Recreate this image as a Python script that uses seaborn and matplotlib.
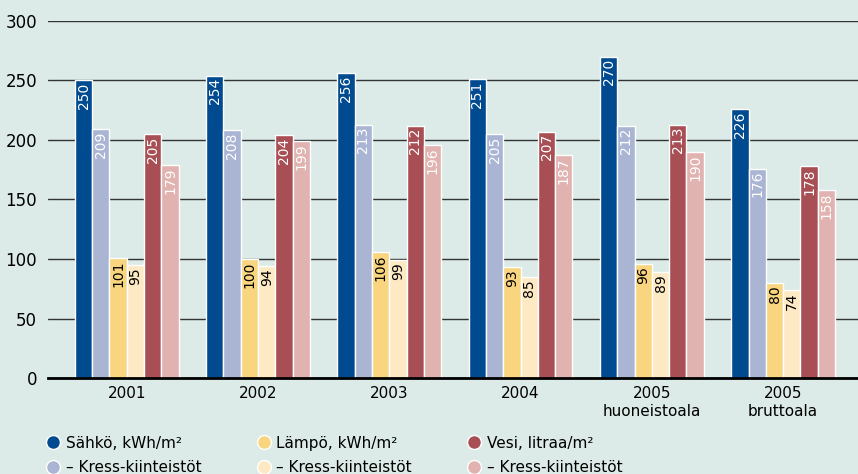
import matplotlib
matplotlib.use('Agg')
import matplotlib.pyplot as plt
from matplotlib.lines import Line2D
import seaborn as sns
import pandas as pd
import numpy as np

#---- Data ----#
groups = ['2001', '2002', '2003', '2004', '2005\nhuoneistoala', '2005\nbruttoala']
series = ['Sähkö, kWh/m²', 'Sähkö Kress', 'Lämpö, kWh/m²', 'Lämpö Kress',
          'Vesi, litraa/m²', 'Vesi Kress']
legend_labels = ['Sähkö, kWh/m²', '– Kress-kiinteistöt', 'Lämpö, kWh/m²',
                 '– Kress-kiinteistöt', 'Vesi, litraa/m²', '– Kress-kiinteistöt']
sahko = [250, 254, 256, 251, 270, 226]
sahko_kress = [209, 208, 213, 205, 212, 176]
lampo = [101, 100, 106, 93, 96, 80]
lampo_kress = [95, 94, 99, 85, 89, 74]
vesi = [205, 204, 212, 207, 213, 178]
vesi_kress = [179, 199, 196, 187, 190, 158]

colors = ['#004a8f', '#aab5d4', '#f8d57e', '#fdeac4', '#a84f55', '#e0b3b0']
text_colors = ['white', 'white', 'black', 'black', 'white', 'white']
bg = '#dcebe7'

values = [sahko, sahko_kress, lampo, lampo_kress, vesi, vesi_kress]
df = pd.DataFrame([(g, s, v[i]) for s, v in zip(series, values) for i, g in enumerate(groups)],
                  columns=['group', 'series', 'value'])

#---- Plot ----#
sns.set_style('white')
plt.rcParams['font.family'] = ['DejaVu Sans']
plt.rcParams['text.color'] = 'black'
plt.rcParams['xtick.color'] = 'black'
plt.rcParams['ytick.color'] = 'black'
fig = plt.figure(figsize=(8.58, 4.74), dpi=100, facecolor=bg)
ax = fig.add_axes([48/858, 96/474, 1 - 48/858, (378 - 21)/474])
ax.set_facecolor(bg)

sns.barplot(data=df, x='group', y='value', hue='series', hue_order=series,
            palette=colors, saturation=1, width=0.79, edgecolor='white',
            linewidth=1, legend=False, ax=ax, errorbar=None)

# value labels inside bar tops
for cont, tc in zip(ax.containers, text_colors):
    for p in cont:
        h = p.get_height()
        ax.text(p.get_x() + p.get_width()/2, h - 2, f'{h:.0f}', rotation=90,
                ha='center', va='top', color=tc, fontsize=10)

ax.set_ylim(0, 300)
ax.set_xlim(-0.6, 5.57)
ax.set_yticks(np.arange(0, 301, 50))
ax.grid(axis='y', color='#333333', linewidth=1)
ax.set_axisbelow(True)
for s in ['left', 'right', 'top']:
    ax.spines[s].set_visible(False)
ax.spines['bottom'].set_color('black')
ax.spines['bottom'].set_linewidth(2)
ax.tick_params(axis='y', length=0, labelsize=12, pad=8)
ax.tick_params(axis='x', length=0, labelsize=11, pad=6)
ax.set_xticks(np.arange(0.5, 5, 1), minor=True)
ax.tick_params(axis='x', which='minor', direction='in', length=8, width=2, color='black')
ax.set_xlabel('')
ax.set_ylabel('')

#---- Legend ----#
handles = [Line2D([], [], marker='o', linestyle='', markersize=10,
                  markerfacecolor=c, markeredgecolor='white') for c in colors]
fig.legend(handles, legend_labels, ncol=3, loc='upper left',
           bbox_to_anchor=(32/858, 1 - 422/474), frameon=False,
           fontsize=11, handletextpad=0.3, columnspacing=3.6,
           labelspacing=0.6, handlelength=1.0)

fig.savefig('out.png', dpi=100, facecolor=bg)
